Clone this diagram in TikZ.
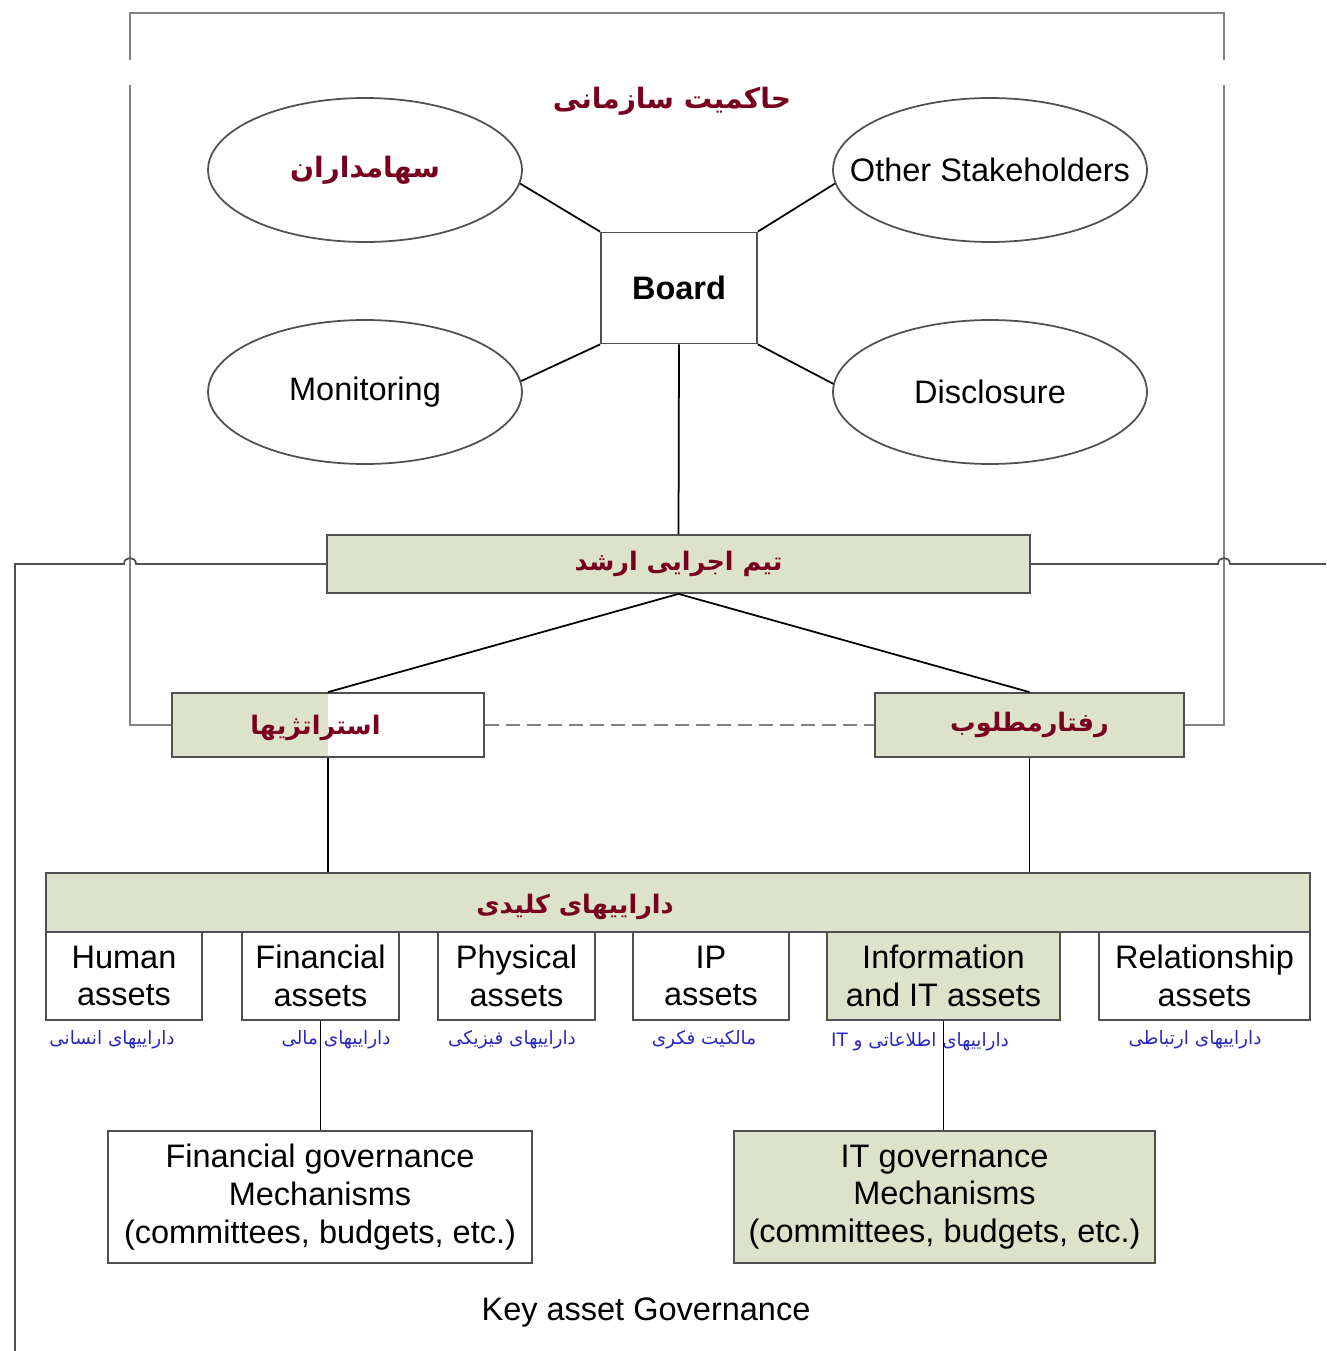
\documentclass[tikz,border=0pt]{standalone}
\usepackage{fontspec}
\setmainfont{Liberation Sans}
\newfontfamily\farsi[Script=Arabic]{DejaVu Sans}
\TeXXeTstate=1
\usepackage{tikz}
\usetikzlibrary{shapes.geometric}
\definecolor{boxgreen}{RGB}{221,226,202}
\definecolor{titlered}{RGB}{120,0,30}
\definecolor{labelblue}{RGB}{40,40,190}
\definecolor{framegray}{RGB}{130,130,130}
\definecolor{edgegray}{RGB}{80,80,80}

\begin{document}
\begin{tikzpicture}[x=0.02cm,y=-0.02cm,line width=1pt]
    \tikzstyle{every node}=[font=\fontsize{18.5}{21.5}\selectfont]
    \tikzstyle{oval}=[ellipse, draw=edgegray, minimum width=6.28cm, minimum height=2.88cm, inner sep=0pt]
    \tikzstyle{box}=[rectangle, draw=edgegray, inner sep=0pt, align=center]
    \tikzstyle{greenbox}=[box, fill=boxgreen]
    \tikzstyle{asset}=[box, minimum height=1.76cm]
    \tikzstyle{fatext}=[font=\farsi\bfseries\fontsize{14.5}{18}\selectfont, text=titlered]
    \tikzstyle{fanote}=[font=\farsi\fontsize{10.5}{12}\selectfont, text=labelblue]
    \useasboundingbox (0,0) rectangle (1326,1351);

    % board level
    \node[fatext, font=\farsi\bfseries\fontsize{16}{19}\selectfont] (title) at (672,101) {\beginR حاکمیت سازمانی\endR};
    \node[oval, fatext, font=\farsi\bfseries\fontsize{16}{19}\selectfont] (holders) at (365,170) {\beginR سهامداران\endR};
    \node[oval, inner xsep=-18pt] (others) at (990,170) {Other Stakeholders};
    \node[box, minimum width=3.12cm, minimum height=2.22cm, font=\fontsize{18.5}{21.5}\selectfont\bfseries] (board) at (679,288) {Board};
    \node[oval] (monitor) at (365,392) {Monitoring};
    \node[oval] (disclose) at (990,392) {Disclosure};

    % executives
    \node[greenbox, minimum width=14.06cm, minimum height=1.16cm, fatext] (senior) at (678.5,564) {\beginR تیم اجرایی ارشد\endR};
    \node[box, minimum width=6.24cm, minimum height=1.28cm, fatext, text depth=0pt,
        path picture={\fill[boxgreen] (path picture bounding box.north west) rectangle (path picture bounding box.south);}] (strategy) at (328,725) {\beginR استراتژیها\endR\hspace*{0.5cm}};
    \node[greenbox, minimum width=6.18cm, minimum height=1.28cm, fatext] (behaviour) at (1029.5,725) {\beginR رفتارمطلوب\endR};

    % key assets
    \node[greenbox, minimum width=25.28cm, minimum height=1.18cm] (keyassets) at (678,902.5) {};
    \node[fatext] (keyassetslabel) at (575,907) {\beginR داراییهای کلیدی\endR};
    \node[asset, minimum width=3.12cm] (human) at (124,976) {Human\\assets};
    \node[asset, minimum width=3.14cm] (financial) at (320.5,976) {Financial\\assets};
    \node[asset, minimum width=3.14cm] (physical) at (516.5,976) {Physical\\assets};
    \node[asset, minimum width=3.12cm] (ip) at (711,976) {IP\\assets};
    \node[asset, minimum width=4.66cm, fill=boxgreen] (infoit) at (943.5,976) {Information\\and IT assets};
    \node[asset, minimum width=4.22cm] (relation) at (1204.5,976) {Relationship\\assets};

    \node[fanote] (humannote) at (112,1040) {\beginR داراییهای انسانی\endR};
    \node[fanote] (financialnote) at (336,1040) {\beginR داراییهای مالی\endR};
    \node[fanote] (physicalnote) at (512,1040) {\beginR داراییهای فیزیکی\endR};
    \node[fanote] (ipnote) at (704,1040) {\beginR مالکیت فکری\endR};
    \node[fanote] (infoitnote) at (920,1042) {\beginR داراییهای اطلاعاتی و \beginL IT\endL\endR};
    \node[fanote] (relationnote) at (1195,1040) {\beginR داراییهای ارتباطی\endR};

    % governance mechanisms
    \node[box, minimum width=8.48cm, minimum height=2.64cm] (fingov) at (320,1197) {Financial governance\\Mechanisms\\(committees, budgets, etc.)};
    \node[greenbox, minimum width=8.42cm, minimum height=2.64cm] (itgov) at (944.5,1197) {IT governance\\Mechanisms\\(committees, budgets, etc.)};
    \node (keygov) at (646,1313) {Key asset Governance};

    % connectors
    \draw (holders.-5) -- (board.north west);
    \draw (others.185) -- (board.north east);
    \draw (monitor.4) -- (board.south west);
    \draw (disclose.177) -- (board.south east);
    \draw (board.south) -- (senior.north);
    \draw (senior.south) -- (strategy.north);
    \draw (senior.south) -- (behaviour.north);
    \draw[framegray, dashed, dash pattern=on 8pt off 4pt] (strategy.east) -- (behaviour.west);
    \draw (strategy.south) -- (strategy.south |- keyassets.north);
    \draw (behaviour.south) -- (behaviour.south |- keyassets.north);
    \draw (financial.south) -- (financial.south |- fingov.north);
    \draw (infoit.south) -- (infoit.south |- itgov.north);

    % outer frame
    \coordinate (frametl) at (130,13);
    \coordinate (frametr) at (1224,13);
    \coordinate (leftgap) at (130,85);
    \coordinate (rightgap) at (1224,85);
    \coordinate (leftend) at (15,1351);
    \coordinate (rightend) at (1326,564);
    \draw[framegray] (130,60) -- (frametl) -- (frametr) -- (1224,60);
    \draw[framegray] (leftgap) -- (frametl |- strategy.west) -- (strategy.west);
    \draw[framegray] (rightgap) -- (frametr |- behaviour.east) -- (behaviour.east);
    \draw[edgegray] (senior.west) -- (136,564) .. controls (136,556) and (124,556) .. (124,564) -- (leftend |- senior.west) -- (leftend);
    \draw[edgegray] (senior.east) -- (1218,564) .. controls (1218,556) and (1230,556) .. (1230,564) -- (rightend);
\end{tikzpicture}
\end{document}
